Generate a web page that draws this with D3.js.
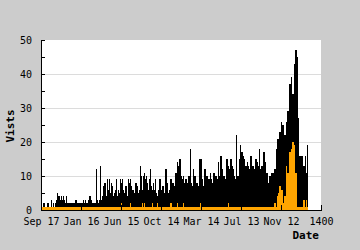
<!DOCTYPE html>
<html>
<head>
<meta charset="utf-8">
<script src="https://cdn.jsdelivr.net/npm/d3@7"></script>
<style>
  body { margin: 0; background: #cccccc; }
  text { font-family: "DejaVu Sans Mono", monospace; }
</style>
</head>
<body>
<div id="chart"></div>
<script>
  // ancho de cada barra en dias (un valor por columna del dibujo)
  const dayStep = 5

  // visitas (negro)
  const visits = [
    1, 1, 2, 2, 1, 1, 2, 2, 1, 1,
    3, 1, 2, 1, 2, 3, 5, 4, 4, 3,
    4, 3, 4, 3, 2, 4, 2, 2, 2, 2,
    2, 2, 2, 2, 3, 3, 2, 2, 2, 2,
    2, 2, 3, 2, 3, 2, 2, 3, 4, 4,
    3, 2, 2, 2, 2, 12, 3, 2, 3, 13,
    3, 4, 7, 8, 8, 4, 9, 6, 9, 5,
    8, 7, 4, 5, 6, 9, 4, 6, 5, 9,
    8, 9, 6, 5, 7, 7, 4, 9, 8, 9,
    7, 6, 6, 5, 8, 8, 7, 5, 6, 13,
    10, 6, 10, 11, 9, 10, 8, 6, 9, 12,
    7, 6, 8, 6, 9, 5, 4, 6, 9, 9,
    6, 7, 7, 5, 12, 12, 8, 5, 6, 9,
    9, 8, 8, 7, 11, 11, 14, 13, 15, 15,
    10, 9, 10, 8, 9, 9, 8, 10, 10, 18,
    8, 7, 12, 10, 10, 8, 8, 7, 15, 15,
    15, 9, 7, 12, 12, 10, 10, 9, 9, 11,
    9, 8, 11, 11, 10, 10, 9, 14, 10, 16,
    16, 12, 10, 10, 9, 15, 15, 13, 12, 15,
    15, 13, 12, 10, 9, 22, 10, 10, 15, 19,
    17, 17, 16, 15, 13, 13, 14, 13, 12, 16,
    16, 13, 13, 12, 15, 15, 14, 13, 18, 12,
    13, 13, 17, 17, 14, 11, 11, 8, 10, 10,
    11, 11, 11, 12, 12, 18, 21, 21, 23, 23,
    26, 25, 25, 22, 22, 26, 29, 29, 37, 37,
    39, 34, 34, 43, 47, 47, 45, 27, 16, 16,
    16, 16, 13, 13, 16, 11, 19
  ]

  // segunda serie (naranja)
  const others = [
    1, 1, 1, 1, 1, 1, 1, 1, 1, 1,
    1, 1, 1, 1, 1, 1, 1, 1, 1, 1,
    1, 1, 1, 1, 1, 1, 1, 1, 1, 1,
    1, 1, 1, 1, 1, 1, 1, 1, 1, 1,
    1, 1, 1, 1, 1, 1, 1, 1, 1, 1,
    1, 1, 1, 1, 1, 1, 1, 1, 1, 1,
    1, 1, 1, 1, 1, 1, 1, 1, 1, 1,
    1, 1, 1, 1, 1, 1, 1, 1, 1, 1,
    2, 1, 1, 1, 1, 1, 1, 1, 1, 2,
    1, 1, 1, 1, 1, 1, 1, 1, 1, 1,
    1, 2, 1, 2, 1, 1, 1, 1, 1, 1,
    1, 2, 1, 1, 1, 1, 2, 1, 1, 1,
    1, 1, 1, 1, 1, 1, 1, 1, 1, 2,
    2, 1, 1, 1, 1, 1, 2, 1, 1, 1,
    1, 1, 2, 1, 1, 1, 1, 1, 1, 1,
    1, 1, 1, 1, 1, 1, 1, 1, 1, 2,
    1, 1, 1, 1, 1, 1, 1, 1, 1, 1,
    1, 1, 1, 1, 1, 1, 1, 1, 1, 1,
    1, 1, 1, 1, 1, 1, 1, 2, 1, 1,
    1, 1, 1, 1, 1, 1, 1, 1, 1, 1,
    1, 1, 1, 1, 1, 1, 1, 1, 1, 1,
    1, 1, 1, 1, 1, 1, 1, 1, 1, 1,
    1, 1, 1, 1, 1, 1, 1, 1, 1, 1,
    1, 1, 1, 2, 2, 1, 4, 5, 7, 7,
    6, 6, 2, 4, 4, 13, 11, 11, 17, 17,
    18, 20, 20, 19, 11, 11, 1, 1, 1, 1,
    1, 1, 3, 3, 1, 3, 1
  ]

  const xTicks = [0, 200, 400, 600, 800, 1000, 1200, 1400]
  const xTickLabels = ['Sep 17', 'Jan 16', 'Jun 15', 'Oct 14', 'Mar 14', 'Jul 13', 'Nov 12', '1400']
  const yTicks = [0, 5, 10, 15, 20, 25, 30, 35, 40, 45, 50]
  const gridValues = [10, 20, 30, 40]

  const width = 360
  const height = 250
  const margin = { top: 40, right: 39, bottom: 40, left: 41 }

  const svg = d3.select('#chart').append('svg')
    .attr('width', width)
    .attr('height', height)

  const x = d3.scaleLinear()
    .domain([0, 1400])
    .range([margin.left, width - margin.right])

  const y = d3.scaleLinear()
    .domain([0, 50])
    .range([height - margin.bottom, margin.top])

  // fondo del area del grafico
  svg.append('rect')
    .attr('x', x(0))
    .attr('y', y(50))
    .attr('width', x(1400) - x(0))
    .attr('height', y(0) - y(50))
    .attr('fill', '#ffffff')

  // lineas de grilla
  svg.append('g')
    .selectAll('line')
    .data(gridValues)
    .join('line')
    .attr('x1', x(0))
    .attr('x2', x(1400))
    .attr('y1', d => Math.round(y(d)) + 0.5)
    .attr('y2', d => Math.round(y(d)) + 0.5)
    .attr('stroke', '#dcdcdc')

  const barWidth = x(dayStep) - x(0)

  const drawBars = (data, color) => {
    svg.append('g')
      .attr('shape-rendering', 'crispEdges')
      .selectAll('rect')
      .data(data)
      .join('rect')
      .attr('x', (d, i) => x(i * dayStep))
      .attr('y', d => y(d))
      .attr('width', barWidth)
      .attr('height', d => y(0) - y(d))
      .attr('fill', color)
  }

  drawBars(visits, '#000000')
  drawBars(others, '#ffa500')

  // ejes
  const yAxis = svg.append('g')
    .attr('transform', `translate(${x(0)},0)`)
    .call(d3.axisLeft(y)
      .tickValues(yTicks)
      .tickSizeInner(-4)
      .tickSizeOuter(0)
      .tickPadding(9)
      .tickFormat(d => d % 10 ? '' : d))
  yAxis.selectAll('text')
    .attr('font-family', 'DejaVu Sans Mono')
    .attr('font-size', 10)

  const xAxis = svg.append('g')
    .attr('transform', `translate(0,${y(0)})`)
    .call(d3.axisBottom(x)
      .tickValues(xTicks)
      .tickSizeInner(-5)
      .tickSizeOuter(0)
      .tickPadding(8)
      .tickFormat((d, i) => xTickLabels[i]))
  xAxis.selectAll('text')
    .attr('font-family', 'DejaVu Sans Mono')
    .attr('font-size', 10)

  svg.selectAll('.domain, .tick line')
    .attr('shape-rendering', 'crispEdges')

  // titulos de los ejes
  svg.append('text')
    .attr('x', 319)
    .attr('y', 239)
    .attr('text-anchor', 'end')
    .attr('font-size', 11)
    .attr('font-weight', 'bold')
    .text('Date')

  svg.append('text')
    .attr('transform', 'translate(14,126) rotate(-90)')
    .attr('text-anchor', 'middle')
    .attr('font-size', 11)
    .attr('font-weight', 'bold')
    .text('Vists')
</script>
</body>
</html>
